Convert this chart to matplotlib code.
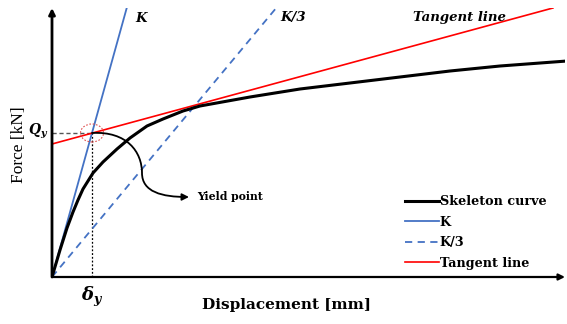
import numpy as np
import matplotlib
matplotlib.use("Agg")
import matplotlib.pyplot as plt
from matplotlib.patches import Ellipse, FancyArrowPatch
from matplotlib.path import Path

plt.rcParams["mathtext.fontset"] = "dejavuserif"

# Skeleton curve (arbitrary units)
disp = [0, 8, 15, 21, 26, 31, 41, 51, 65, 78, 95, 111, 131, 148, 198, 248, 298,
        348, 398, 448, 515]
force = [0, 27, 49, 65, 77, 88, 104, 115, 128, 139, 151, 158, 166, 171, 180, 188,
         194, 200, 206, 211, 216]

# Stiffness lines and yield point
k_initial = 3.6
k_third = k_initial / 3
tangent_intercept = 133.0
tangent_slope = 0.2715
delta_y = 40.0
q_y = 144.0

x_max, y_max = 513, 269

fig = plt.figure(figsize=(5.67, 3.24), dpi=100)
ax = fig.add_axes([52 / 567, 47 / 324, 513 / 567, 269 / 324])
ax.set_xlim(0, x_max)
ax.set_ylim(0, y_max)
for s in ax.spines.values():
    s.set_visible(False)
ax.set_xticks([])
ax.set_yticks([])

blue = "#4472C4"
red = "#FF0000"

# K line
xk = np.array([0, y_max / k_initial])
ax.plot(xk, k_initial * xk, color=blue, lw=1.3, label="K", zorder=3)
# K/3 line
xk3 = np.array([0, y_max / k_third])
ax.plot(xk3, k_third * xk3, color=blue, lw=1.3, ls=(0, (4, 3)), label="K/3", zorder=3)
# Tangent line
xt = np.array([0, (y_max - tangent_intercept) / tangent_slope])
ax.plot(xt, tangent_intercept + tangent_slope * xt, color=red, lw=1.2,
        label="Tangent line", zorder=3)
# Skeleton curve
ax.plot(disp, force, color="black", lw=2.2, label="Skeleton curve", zorder=4,
        solid_joinstyle="round")

# Yield point guides
ax.plot([0, delta_y], [q_y, q_y], color="#555555", lw=1.0, ls=(0, (3, 2)), zorder=2)
ax.plot([delta_y, delta_y], [0, q_y], color="black", lw=0.9, ls=(0, (1.5, 1.5)), zorder=2)
ax.add_patch(Ellipse((delta_y, q_y), 23, 18, fill=False, edgecolor="#e05050",
                     lw=0.8, ls=(0, (1.5, 1.5)), zorder=5))

# Curved pointer to the yield point label
verts = [(delta_y, q_y), (75, 146), (90, 125), (90, 104),
         (90, 85), (110, 80), (137, 80)]
codes = [Path.MOVETO, Path.CURVE4, Path.CURVE4, Path.CURVE4,
         Path.CURVE4, Path.CURVE4, Path.CURVE4]
ax.add_patch(FancyArrowPatch(path=Path(verts, codes), arrowstyle="-|>",
                             mutation_scale=10, color="black", lw=1.3, zorder=6))
ax.text(145, 80, "Yield point", family="DejaVu Serif", fontweight="bold",
        fontsize=7.8, va="center", ha="left")

# Axes with arrowheads
ax.annotate("", xy=(0, 1.0), xytext=(0, 0), xycoords="axes fraction",
            arrowprops=dict(arrowstyle="-|>", color="black", lw=2.0,
                            mutation_scale=9, shrinkA=0, shrinkB=0))
ax.annotate("", xy=(1.0, 0), xytext=(0, 0), xycoords="axes fraction",
            arrowprops=dict(arrowstyle="-|>", color="black", lw=1.6,
                            mutation_scale=9, shrinkA=0, shrinkB=0))

# Line labels
lab = dict(family="DejaVu Serif", fontstyle="italic", fontweight="bold",
           fontsize=9.5, va="center", ha="left", clip_on=False)
ax.text(83, 259, "K", **lab)
ax.text(228, 259, "K/3", **lab)
ax.text(361, 259, "Tangent line", **lab)

# Yield values
ax.text(-14, q_y + 2, r"$\mathbfit{Q_y}$", fontsize=10, ha="center", va="center",
        clip_on=False)
ax.text(delta_y, -20, r"$\mathbfit{\delta_y}$", fontsize=13, ha="center", va="center",
        clip_on=False)

# Axis titles
fig.text(19 / 567, 1 - 145 / 324, "Force [kN]", family="Liberation Serif",
         fontsize=12.5, rotation=90, ha="center", va="center")
fig.text(286 / 567, 1 - 305 / 324, "Displacement [mm]", family="DejaVu Serif",
         fontweight="bold", fontsize=11, ha="center", va="center")

# Legend
handles, labels = ax.get_legend_handles_labels()
order = [3, 0, 1, 2]
ax.legend([handles[i] for i in order], [labels[i] for i in order],
          loc="upper left", bbox_to_anchor=(347 / 513, 88 / 269), frameon=False,
          prop=dict(family="DejaVu Serif", weight="bold", size=9.2),
          handlelength=2.6, handletextpad=0.1, labelspacing=0.58, borderpad=0)

fig.savefig("out.png", dpi=100)
